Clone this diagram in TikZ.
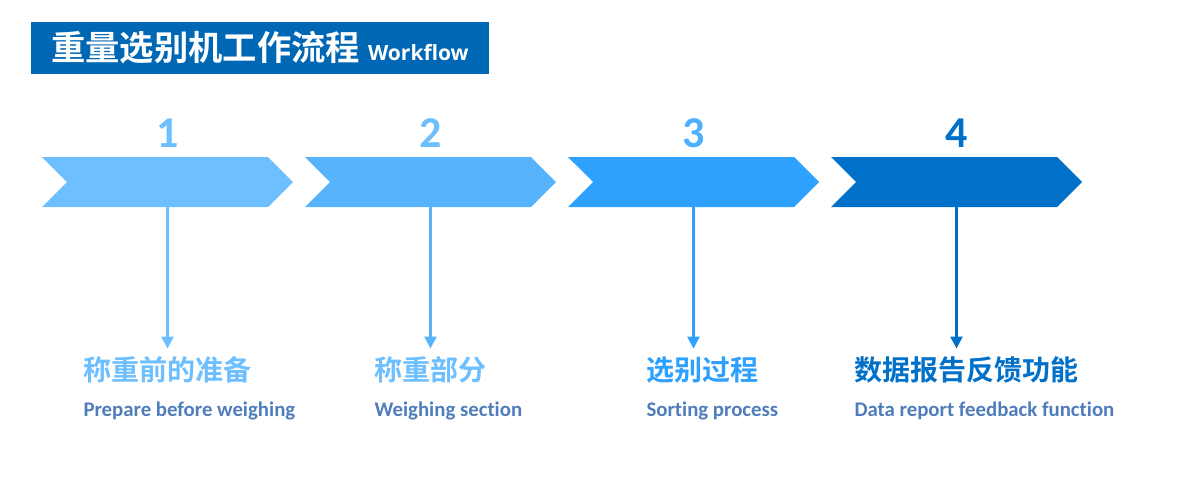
\documentclass[tikz,border=0pt]{standalone}
\usepackage{fontspec}
\setmainfont{Carlito}[Ligatures=CommonOff]
\newfontfamily\cjk{Noto Sans CJK SC}[BoldFont={Noto Sans CJK SC Bold}]
\newfontfamily\opensans{Open Sans}
\usetikzlibrary{positioning,shapes.symbols,arrows.meta}
\definecolor{titleblue}{HTML}{0067B5}
\definecolor{blueA}{HTML}{6DBFFF}
\definecolor{blueB}{HTML}{57B4FC}
\definecolor{blueC}{HTML}{2EA1FF}
\definecolor{blueD}{HTML}{0070C9}
\definecolor{engray}{HTML}{4F7DBA}
\begin{document}
\begin{tikzpicture}[x=1pt, y=-1pt, node distance=263pt,
    chev/.style = {signal, signal from=west, signal to=east, signal pointer angle=90, minimum width=251pt, minimum height=50pt, inner sep=0pt},
    num/.style = {font=\fontsize{44}{48}\selectfont\bfseries, inner sep=0pt},
    cn/.style = {font=\cjk\fontsize{28}{30}\selectfont\bfseries, inner sep=0pt},
    en/.style = {font=\fontsize{20.8}{24}\selectfont\bfseries, text=engray, inner sep=0pt, anchor=base west},
    arr/.style = {-{Triangle[length=12pt, width=12pt]}, line width=2.5pt, shorten >=8pt}]
    \useasboundingbox (0,0) rectangle (1195,499);
    \node[fill=titleblue, text=white, minimum width=458pt, minimum height=52pt, inner sep=0pt] (title) at (260,48) {{\cjk\fontsize{34.3}{36}\selectfont\bfseries 重量选别机工作流程}\hspace{8pt}{\opensans\fontsize{21}{24}\selectfont\bfseries Workflow}};
    \node[chev, fill=blueA] (c1) at (167.5,182) {};
    \node[chev, fill=blueB] (c2) [right of=c1] {};
    \node[chev, fill=blueC] (c3) [right of=c2] {};
    \node[chev, fill=blueD] (c4) [right of=c3] {};
    \node[num, text=blueA] (n1) [above of=c1, node distance=49pt] {1};
    \node[num, text=blueA] (n2) [above of=c2, node distance=49pt] {2};
    \node[num, text=blueC!85!white] (n3) [above of=c3, node distance=49pt] {3};
    \node[num, text=blueD] (n4) [above of=c4, node distance=49pt] {4};
    \node[cn, text=blueA] (t1) [below of=c1, node distance=188pt] {称重前的准备};
    \node[cn, text=blueA] (t2) [below of=c2, node distance=188pt] {称重部分};
    \node[cn, text=blueC] (t3) [below of=c3, node distance=188pt, xshift=9pt] {选别过程};
    \node[cn, text=blueD] (t4) [below of=c4, node distance=188pt, xshift=10pt] {数据报告反馈功能};
    \node[en] (e1) at ([yshift=-33pt]t1.south west) {Prepare before weighing};
    \node[en] (e2) at ([yshift=-33pt]t2.south west) {Weighing section};
    \node[en] (e3) at ([yshift=-33pt]t3.south west) {Sorting process};
    \node[en] (e4) at ([yshift=-33pt]t4.south west) {Data report feedback function};
    \draw[arr, draw=blueA] (c1.south) -- (c1.south |- t1.north);
    \draw[arr, draw=blueB] (c2.south) -- (c2.south |- t2.north);
    \draw[arr, draw=blueC] (c3.south) -- (c3.south |- t3.north);
    \draw[arr, draw=blueD] (c4.south) -- (c4.south |- t4.north);
\end{tikzpicture}
\end{document}
